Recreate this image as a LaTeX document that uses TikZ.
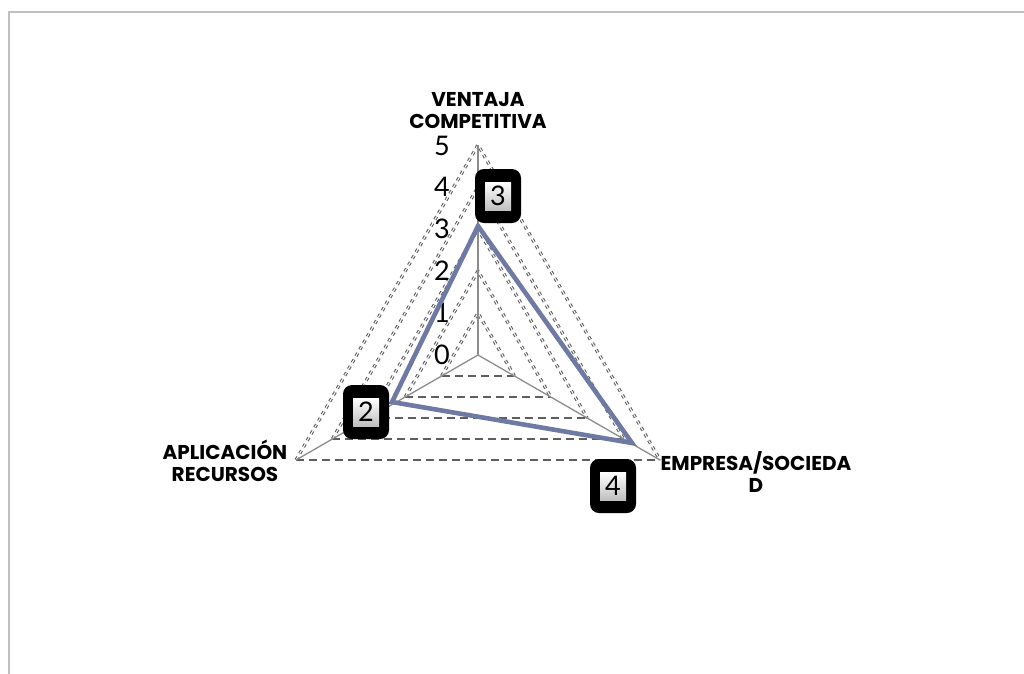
\documentclass[tikz,border=0pt]{standalone}
\usepackage{fontspec}
\setmainfont{Lato}
\newfontfamily\catfont{Poppins}
\definecolor{serieblue}{HTML}{6E7AA3}
\definecolor{gridgray}{HTML}{5E5E5E}
\definecolor{framegray}{HTML}{BFBFBF}
\begin{document}
\begin{tikzpicture}[x=1pt,y=-1pt,
  frame/.style={draw=framegray,line width=2pt},
  hgrid/.style={draw=gridgray,line width=1.6pt,dash pattern=on 8pt off 5pt},
  sgrid/.style={draw=gridgray,line width=1.1pt,double=white,double distance=1pt,dash pattern=on 3.5pt off 4pt},
  axisline/.style={draw=gray!90,line width=1.3pt},
  series/.style={draw=serieblue,line width=4.6pt,line join=miter},
  tick/.style={anchor=base east,inner sep=0pt,text height=18pt,text depth=0pt,font=\fontsize{27}{27}\selectfont},
  cat/.style={align=center,inner sep=0pt,font=\catfont\fontsize{20}{22}\selectfont\bfseries},
  dlabel/.style={fill=black,rounded corners=9pt,minimum width=46pt,minimum height=54pt,inner sep=0pt},
  dinner/.style={top color=white,bottom color=gray!50,minimum width=26pt,minimum height=28pt,inner sep=0pt,font=\fontsize{27}{27}\selectfont}
]
\useasboundingbox (0,0) rectangle (1024,673);
\draw[frame] (1030,12) -- (9,12) -- (9,680);
\coordinate (o) at (478,355);
\coordinate (vt) at (478,145);
\coordinate (vl) at (296,460);
\coordinate (vr) at (660,460);
\foreach \k in {1,...,5} {
  \draw[hgrid] (478-36.4*\k,355+21*\k) -- (478+36.4*\k,355+21*\k);
  \draw[sgrid] (478-36.4*\k,355+21*\k) -- (478,355-42*\k) -- (478+36.4*\k,355+21*\k);
}
\draw[axisline] (o) -- (vt);
\draw[axisline] (o) -- (vl);
\draw[axisline] (o) -- (vr);
\foreach \k/\y in {0/355,1/313,2/271,3/229,4/187,5/146} {
  \node[tick] (t\k) at (450,\y+9.5) {\k};
}
\coordinate (dt) at (478,226);
\coordinate (dl) at (392,402);
\coordinate (dr) at (632,443);
\draw[series] (dt) -- (dr) -- (dl) -- cycle;
\node[dlabel] (b3) at (498,196) {};
\node[dinner] (i3) at (b3.center) {3};
\node[dlabel] (b2) at (366,412) {};
\node[dinner] (i2) at (b2.center) {2};
\node[dlabel] (b4) at (613,486) {};
\node[dinner] (i4) at (b4.center) {4};
\node[cat] (cv) at (478,111) {VENTAJA\\COMPETITIVA};
\node[cat] (ca) at (225,461) {APLICACIÓN\\RECURSOS};
\node[cat] (ce) at (756,472) {EMPRESA/SOCIEDA\\D};
\end{tikzpicture}
\end{document}
